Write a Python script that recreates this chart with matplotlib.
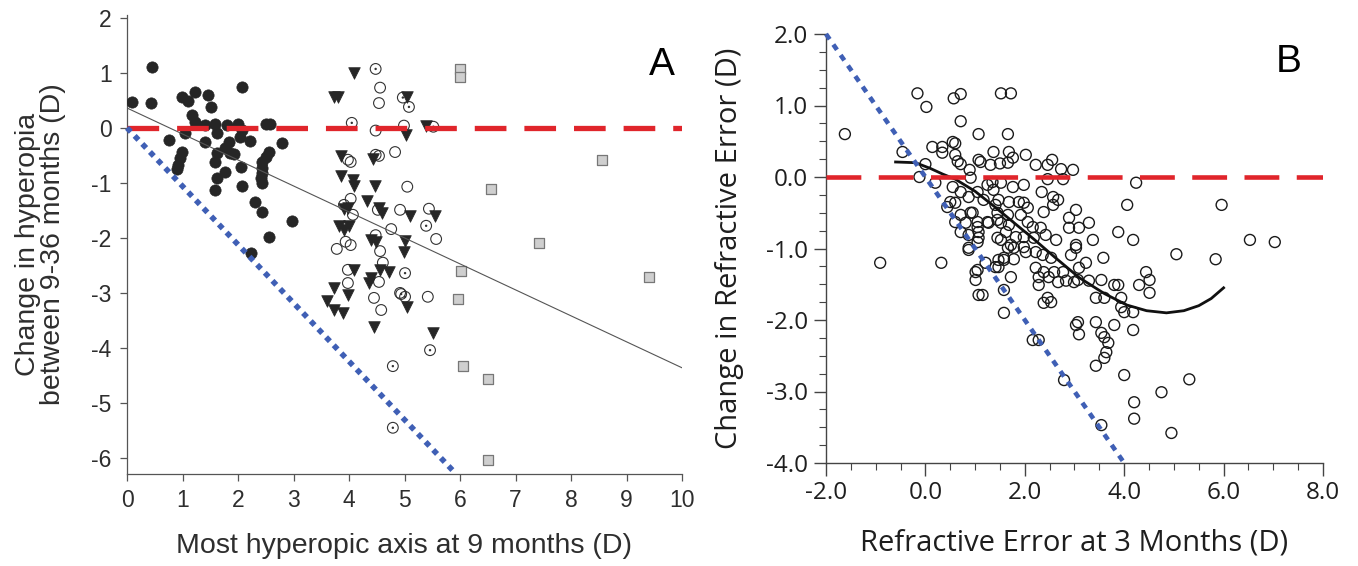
import matplotlib
matplotlib.use("Agg")
import matplotlib.pyplot as plt
import numpy as np

plt.rcParams['axes.unicode_minus'] = False

W, H = 1358, 566

# ---------------- Panel A data ----------------
a_filled_x = [0.09, 0.45, 0.43, 0.76, 0.99, 1.10, 1.23, 1.46, 1.52, 2.08, 1.18, 1.23, 1.05, 1.41, 1.59,
              1.63, 1.81, 2.00, 2.08, 2.50, 2.57, 1.41, 2.04, 2.22, 1.83, 1.77, 1.86, 1.92, 1.63, 1.59,
              0.99, 0.96, 0.92, 0.90, 1.77, 2.06, 2.55, 2.50, 2.44, 2.44, 2.44, 2.41, 2.44, 2.80, 1.63,
              1.59, 2.08, 2.31, 2.44, 2.97, 2.55, 2.24]
a_filled_y = [0.47, 1.11, 0.45, -0.22, 0.56, 0.49, 0.65, 0.60, 0.38, 0.75, 0.24, 0.11, -0.09, 0.05, 0.07,
              -0.09, 0.05, 0.07, -0.04, 0.07, 0.07, -0.25, -0.16, -0.24, -0.25, -0.36, -0.45, -0.47, -0.45, -0.62,
              -0.44, -0.55, -0.67, -0.75, -0.80, -0.71, -0.44, -0.53, -0.62, -0.73, -0.82, -0.91, -1.00, -0.27, -0.91,
              -1.13, -1.05, -1.35, -1.53, -1.69, -1.98, -2.27]

a_tri_x = [4.09, 3.73, 3.80, 5.05, 5.39, 5.03, 3.85, 4.43, 3.85, 4.07, 4.09, 4.47, 4.32, 3.91, 3.98,
           4.54, 4.59, 5.10, 5.55, 3.82, 3.91, 4.00, 4.39, 4.48, 5.01, 4.99, 4.09, 4.56, 4.72, 4.39,
           4.36, 3.73, 3.98, 3.60, 3.73, 3.89, 5.05, 4.45, 5.52]
a_tri_y = [1.00, 0.56, 0.56, 0.56, 0.04, -0.13, -0.51, -0.56, -0.87, -0.95, -1.05, -1.05, -1.33, -1.47, -1.45,
           -1.45, -1.55, -1.60, -1.60, -1.78, -1.85, -1.78, -2.04, -2.07, -2.05, -2.25, -2.58, -2.58, -2.62, -2.73,
           -2.82, -2.91, -3.04, -3.15, -3.31, -3.36, -3.25, -3.62, -3.73]

a_open_x = [4.56, 4.54, 4.48, 4.99, 3.98, 4.03, 4.48, 4.54, 4.83, 5.05, 4.03, 3.91, 4.07, 4.52, 4.92,
            5.44, 4.76, 5.57, 4.48, 4.56, 4.61, 3.78, 3.94, 4.03, 3.98, 3.98, 4.54, 4.92, 5.42, 4.45, 4.58]
a_open_y = [0.73, 0.45, -0.05, 0.04, -0.58, -0.62, -0.49, -0.51, -0.44, -1.07, -1.29, -1.40, -1.58, -1.49, -1.49,
            -1.47, -1.84, -2.02, -1.95, -2.24, -2.45, -2.20, -2.07, -2.13, -2.58, -2.82, -2.80, -3.00, -3.07, -3.09, -3.31]

a_dot_x = [4.48, 4.97, 5.08, 4.05, 5.52, 5.39, 5.01, 4.94, 5.01, 5.46, 4.79, 4.79]
a_dot_y = [1.07, 0.55, 0.38, 0.09, 0.02, -1.78, -2.64, -3.02, -3.07, -4.04, -4.33, -5.45]

a_sq_x = [6.00, 6.00, 6.56, 6.02, 5.97, 6.06, 6.51, 9.40, 6.51, 7.43, 8.55]
a_sq_y = [1.07, 0.93, -1.11, -2.60, -3.11, -4.33, -4.56, -2.71, -6.04, -2.09, -0.58]

a_fit_x = [0, 10]
a_fit_y = [0.36, -4.36]
a_diag_x = [0, 5.93]
a_diag_y = [0, -6.29]

a_xticks = list(range(0, 11))
a_yticks = list(range(-6, 3))

# ---------------- Panel B data ----------------
b_x = [-1.62, -0.16, 0.02, 0.57, 0.71, 0.71, 1.07, 1.52, 1.72, 1.66, -0.46, 0.00, -0.12, -0.91, 0.32,
       0.14, 0.34, 0.34, 0.55, 0.60, 0.60, 0.65, 0.71, 0.89, 1.07, 1.11, 1.37, 1.31, 1.50, 1.68,
       1.76, 1.66, 2.02, 0.20, 0.55, 0.71, 0.91, 1.05, 1.25, 1.35, 1.37, 1.52, 1.76, 1.98, 0.50,
       0.60, 0.87, 1.17, 1.41, 1.47, 1.68, 1.88, 0.71, 0.91, 0.81, 1.05, 1.25, 1.45, 1.66, 1.52,
       1.68, 1.92, 2.06, 0.87, 1.07, 1.45, 1.62, 1.82, 1.98, 0.87, 1.05,
       2.22, 2.46, 2.55, 2.73, 2.97, 2.46, 2.77, 4.24, 2.34, 2.57, 2.67, 4.06, 1.98, 2.06, 2.38,
       2.57, 3.03, 2.89, 2.89, 3.09, 3.29, 3.88, 4.18, 3.37, 3.03, 2.16, 2.32, 2.18, 2.42, 2.63,
       2.02, 2.22, 2.36, 2.53, 2.93, 3.03, 3.58, 5.05, 2.22, 2.38, 2.59, 2.77, 3.09, 3.23, 4.44,
       4.51, 4.30, 4.51, 2.28, 2.48, 2.28, 2.67, 2.83, 2.99, 3.07, 3.29, 3.54, 3.80, 3.88, 3.43,
       3.60, 3.94, 3.94, 4.00, 4.18, 2.46, 2.38, 2.53, 3.07, 3.03, 3.09, 3.43, 3.80, 4.18, 3.54,
       3.60, 3.68, 3.64, 3.60, 2.16, 2.28, 3.43, 4.00, 2.79, 4.75, 4.20, 4.20, 3.54, 4.95,
       5.96, 6.53, 7.03, 5.84, 5.31,
       0.87, 1.05, 1.01, 1.07, 1.15, 1.21, 1.41, 1.47, 1.58, 1.78, 1.72, 1.58, 1.58, 1.66, 1.78,
       1.98, 0.44, 0.60, 0.71, 0.95, 1.05, 1.07, 1.01, 1.27, 1.45, 1.52, 1.72, 1.58, 1.47]
b_y = [0.60, 1.17, 0.98, 1.10, 1.16, 0.78, 0.60, 1.17, 1.17, 0.60, 0.35, 0.18, 0.00, -1.20, -1.20,
       0.42, 0.42, 0.34, 0.49, 0.47, 0.31, 0.22, 0.18, 0.10, 0.24, 0.21, 0.35, 0.17, 0.19, 0.35,
       0.27, 0.20, 0.31, -0.08, -0.14, -0.21, -0.01, -0.21, -0.11, -0.07, -0.18, -0.08, -0.14, -0.11, -0.35,
       -0.36, -0.28, -0.32, -0.39, -0.32, -0.35, -0.35, -0.53, -0.50, -0.64, -0.63, -0.63, -0.50, -0.53, -0.64,
       -0.67, -0.53, -0.63, -0.81, -0.77, -0.85, -0.77, -0.84, -0.84, -0.99, -0.91,
       0.17, 0.17, 0.24, 0.11, 0.10, -0.03, -0.03, -0.08, -0.21, -0.28, -0.32, -0.39, -0.36, -0.43, -0.49,
       -0.39, -0.46, -0.57, -0.71, -0.71, -0.64, -0.77, -0.88, -0.88, -0.95, -0.70, -0.71, -0.85, -0.81, -0.88,
       -1.05, -1.05, -1.09, -1.13, -1.09, -0.99, -1.13, -1.08, -1.27, -1.33, -1.33, -1.33, -1.27, -1.20, -1.33,
       -1.44, -1.51, -1.62, -1.40, -1.40, -1.51, -1.47, -1.45, -1.47, -1.44, -1.45, -1.44, -1.51, -1.51, -1.69,
       -1.69, -1.69, -1.82, -1.89, -1.89, -1.69, -1.76, -1.75, -2.03, -2.07, -2.20, -2.03, -2.07, -2.14, -2.18,
       -2.24, -2.32, -2.45, -2.53, -2.28, -2.28, -2.64, -2.77, -2.84, -3.01, -3.15, -3.38, -3.47, -3.58,
       -0.39, -0.88, -0.91, -1.15, -2.83,
       -1.02, -1.30, -1.44, -1.65, -1.65, -1.20, -1.26, -1.16, -1.13, -1.15, -1.40, -1.58, -1.90, -0.99, -0.99,
       -0.98, -0.42, -0.63, -0.77, -0.50, -0.70, -0.85, -1.33, -0.64, -0.60, -0.88, -0.95, -1.16, -1.26]

b_curve_x = [-0.6, -0.2, 0.1, 0.35, 0.6, 1.0, 1.4, 1.8, 2.2, 2.6, 3.1, 3.6, 4.05, 4.45, 4.85,
             5.2, 5.5, 5.75, 6.0]
b_curve_y = [0.21, 0.20, 0.12, 0.04, -0.03, -0.20, -0.42, -0.65, -0.88, -1.12, -1.41, -1.63, -1.79,
             -1.87, -1.90, -1.87, -1.80, -1.70, -1.55]
b_diag_x = [-2.0, 4.0]
b_diag_y = [2.0, -4.0]

b_xticks = [-2.0, 0.0, 2.0, 4.0, 6.0, 8.0]
b_yticks = [-4.0, -3.0, -2.0, -1.0, 0.0, 1.0, 2.0]

RED = '#e0252b'
BLUE = '#3f5fb5'
TXT_A = '#2e2e2e'

fig = plt.figure(figsize=(W / 100, H / 100), dpi=100)
fig.patch.set_facecolor('white')


def add_ax(l, t, r, b):
    return fig.add_axes([l / W, 1 - b / H, (r - l) / W, (b - t) / H])

# ---------------- Panel A ----------------
axA = add_ax(127, 15, 682, 474)
axA.set_xlim(0, 10)
axA.set_ylim(-6.29, 2.05)
for s in ['top', 'right']:
    axA.spines[s].set_visible(False)
for s in ['left', 'bottom']:
    axA.spines[s].set_color('#555555')
    axA.spines[s].set_linewidth(0.9)
axA.set_xticks(a_xticks)
axA.set_yticks(a_yticks)
axA.set_xticklabels([str(v) for v in a_xticks])
axA.set_yticklabels([str(v) for v in a_yticks])
axA.tick_params(direction='out', length=5, width=0.9, color='#555555', labelsize=16.5,
                labelcolor=TXT_A, pad=6)
for lab in axA.get_xticklabels() + axA.get_yticklabels():
    lab.set_family('Liberation Sans')

axA.scatter(a_sq_x, a_sq_y, marker='s', s=60, facecolor='#cfcfcf', edgecolor='#777777', linewidth=0.9, zorder=3)
axA.scatter(a_open_x, a_open_y, marker='o', s=60, facecolor='none', edgecolor='#333333', linewidth=0.8, zorder=3)
axA.scatter(a_dot_x, a_dot_y, marker='o', s=60, facecolor='none', edgecolor='#333333', linewidth=0.8, zorder=3)
axA.scatter(a_dot_x, a_dot_y, marker='o', s=3, facecolor='#333333', edgecolor='none', zorder=3)
axA.scatter(a_tri_x, a_tri_y, marker='v', s=70, facecolor='#262626', edgecolor='#262626', linewidth=0.5, zorder=3)
axA.scatter(a_filled_x, a_filled_y, marker='o', s=66, facecolor='#262626', edgecolor='#262626', linewidth=0.5, zorder=3)

axA.plot(a_fit_x, a_fit_y, color='#555555', lw=0.8, zorder=4)
axA.axhline(0, color=RED, lw=3.8, linestyle=(0, (6.0, 3.4)), zorder=5, dash_capstyle='butt')
axA.plot(a_diag_x, a_diag_y, color=BLUE, lw=4.0, linestyle=(0, (1.0, 1.0)), zorder=5,
         dash_capstyle='butt', clip_on=False)

axA.text(9.64, 1.15, 'A', fontsize=28, family='Liberation Sans', color='black', ha='center', va='center')
axA.set_xlabel('Most hyperopic axis at 9 months (D)', fontsize=20.5, family='Liberation Sans',
               color=TXT_A, labelpad=15)
axA.set_ylabel('Change in hyperopia\nbetween 9-36 months (D)', fontsize=20.5, family='Liberation Sans',
               color=TXT_A, labelpad=18, linespacing=0.95)

# ---------------- Panel B ----------------
axB = add_ax(826, 34, 1323, 463)
axB.set_xlim(-2.0, 8.0)
axB.set_ylim(-4.0, 2.0)
for s in ['top', 'right']:
    axB.spines[s].set_visible(False)
for s in ['left', 'bottom']:
    axB.spines[s].set_color('#444444')
    axB.spines[s].set_linewidth(1.0)
axB.set_xticks(b_xticks)
axB.set_yticks(b_yticks)
axB.set_xticklabels(['%.1f' % v for v in b_xticks])
axB.set_yticklabels(['%.1f' % v for v in b_yticks])
axB.set_xticks(np.arange(-2.0, 8.01, 0.5), minor=True)
axB.set_yticks(np.arange(-4.0, 2.01, 0.25), minor=True)
axB.tick_params(which='major', direction='out', length=9, width=1.0, color='#444444',
                labelsize=17.5, labelcolor='#1e1e1e', pad=4)
axB.tick_params(which='minor', direction='out', length=5, width=0.8, color='#444444')
for lab in axB.get_xticklabels() + axB.get_yticklabels():
    lab.set_family('Open Sans')

axB.scatter(b_x, b_y, marker='o', s=62, facecolor='none', edgecolor='#1a1a1a', linewidth=1.0, zorder=3)
axB.plot(b_curve_x, b_curve_y, color='#111111', lw=2.0, zorder=4)
axB.axhline(0, color=RED, lw=3.3, linestyle=(0, (7.6, 3.8)), zorder=5, dash_capstyle='butt')
axB.plot(b_diag_x, b_diag_y, color=BLUE, lw=3.3, linestyle=(0, (1.4, 1.4)), zorder=5,
         dash_capstyle='butt', clip_on=False)

axB.text(7.31, 1.61, 'B', fontsize=28, family='Liberation Sans', color='black', ha='center', va='center')
axB.set_xlabel('Refractive Error at 3 Months (D)', fontsize=21, family='Open Sans',
               color='#1e1e1e', labelpad=17)
axB.set_ylabel('Change in Refractive Error (D)', fontsize=21, family='Open Sans',
               color='#1e1e1e', labelpad=16)

fig.savefig('out.png', dpi=100, facecolor='white')
